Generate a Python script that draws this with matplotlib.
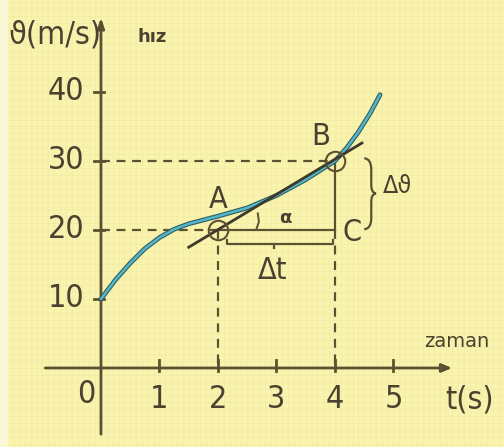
import matplotlib
matplotlib.use("Agg")
import matplotlib.pyplot as plt
import matplotlib.patheffects as pe
from matplotlib import font_manager
from matplotlib.path import Path
from matplotlib.patches import PathPatch
import numpy as np

# velocity curve
curve_t = [0, 0.25, 0.5, 0.75, 1.0, 1.25, 1.5, 2.0, 2.5, 3.0, 3.5, 4.0, 4.2, 4.4, 4.6, 4.77]
curve_v = [10, 12.8, 15.2, 17.3, 18.9, 20.1, 20.9, 22.0, 23.2, 25.0, 27.3, 30.0, 31.9, 34.2, 36.9, 39.6]

# chord through A and B
chord_t = [1.5, 4.46]
chord_v = [17.5, 32.6]

point_a = (2, 20)
point_b = (4, 30)
point_c = (4, 20)

x_ticks = [1, 2, 3, 4, 5]
y_ticks = [10, 20, 30, 40]

ink = "#4a4230"
axis_col = "#5b5131"
bg = "#f9f3ae"

# narrow font if there is one
names = {f.name for f in font_manager.fontManager.ttflist}
condensed = [f for f in font_manager.fontManager.ttflist
             if f.name == "DejaVu Sans" and "ondensed" in str(f.stretch) + f.fname]
if "Liberation Sans Narrow" in names:
    num = dict(family="Liberation Sans Narrow")
elif condensed:
    num = dict(family="DejaVu Sans", stretch="condensed")
else:
    num = dict(family="Liberation Sans")

fig = plt.figure(figsize=(5.04, 4.47), dpi=100)
fig.patch.set_facecolor(bg)
ax = fig.add_axes([0, 0, 1, 1])
ax.set_facecolor(bg)
ax.set_xlim(-1.726, 6.889)
ax.set_ylim(-11.45, 53.33)
ax.axis("off")

# faint graph paper
for gx in np.arange(-1.7, 6.9, 0.1):
    ax.axvline(gx, color="#ebe19a", lw=0.5, alpha=0.45, zorder=0)
for gy in np.arange(-11, 53.4, 1.0):
    ax.axhline(gy, color="#ebe19a", lw=0.5, alpha=0.45, zorder=0)
ax.axvspan(-1.726, -1.6, color="#fbf8d8", zorder=0.5)

# axes with arrows
ax.annotate("", xy=(6.05, 0), xytext=(-1.0, 0),
            arrowprops=dict(arrowstyle="-|>,head_length=0.6,head_width=0.25",
                            color=axis_col, lw=2))
ax.annotate("", xy=(0, 51.2), xytext=(0, -10),
            arrowprops=dict(arrowstyle="-|>,head_length=0.6,head_width=0.2",
                            color=axis_col, lw=2))

for t in x_ticks:
    ax.plot([t, t], [-0.4, 1.1], color=axis_col, lw=2)
    ax.text(t, -4.6, str(t), ha="center", va="center", fontsize=23, color=ink, **num)
for v in y_ticks:
    ax.plot([-0.12, 0.05], [v, v], color=axis_col, lw=2)
    ax.text(-0.6, v, str(v), ha="center", va="center", fontsize=23, color=ink, **num)
ax.text(-0.26, -3.9, "0", ha="center", va="center", fontsize=23, color=ink, **num)
ax.text(6.3, -4.7, "t(s)", ha="center", va="center", fontsize=23, color=ink, **num)
ax.text(6.08, 3.9, "zaman", ha="center", va="center", fontsize=14, color=ink)
ax.text(0.87, 47.9, "hız", ha="center", va="center", fontsize=13, weight="bold", color=ink)
ax.text(-0.78, 48.3, "ϑ(m/s)", ha="center", va="center", fontsize=23, color=ink, **num)

# dashed guide lines
dash = dict(color=axis_col, lw=1.6, ls=(0, (4, 3)))
ax.plot([0, point_b[0]], [point_b[1], point_b[1]], **dash)
ax.plot([0, point_a[0]], [point_a[1], point_a[1]], **dash)
ax.plot([point_a[0], point_a[0]], [point_a[1], 0], **dash)
ax.plot([point_c[0], point_c[0]], [point_c[1], 0], **dash)

# triangle A-C-B
ax.plot([point_a[0], point_c[0]], [point_a[1], point_c[1]], color=axis_col, lw=1.6)
ax.plot([point_c[0], point_b[0]], [point_c[1], point_b[1]], color=axis_col, lw=1.6)

# delta t bracket
ax.plot([2.15, 2.15, 3.97, 3.97], [18.6, 18.0, 18.0, 18.6], color=axis_col, lw=1.6)
ax.plot([2.95, 2.95], [18.0, 17.4], color=axis_col, lw=1.6)
ax.text(2.93, 14.2, "Δt", ha="center", va="center", fontsize=22, color=ink, **num)

# delta v brace
brace = Path(
    [(4.50, 30.4), (4.62, 30.3), (4.62, 28.8), (4.62, 26.5),
     (4.62, 25.4), (4.70, 25.3), (4.62, 25.2), (4.62, 24.1),
     (4.62, 21.7), (4.62, 20.2), (4.50, 20.1)],
    [Path.MOVETO, Path.CURVE3, Path.CURVE3, Path.LINETO,
     Path.CURVE3, Path.CURVE3, Path.CURVE3, Path.CURVE3,
     Path.LINETO, Path.CURVE3, Path.CURVE3])
ax.add_patch(PathPatch(brace, fc="none", ec=axis_col, lw=1.6))
ax.text(5.06, 26.4, "Δϑ", ha="center", va="center", fontsize=18, color=ink, **num)

# alpha arc
ax.plot([2.66, 2.7, 2.68], [20.2, 21.2, 22.4], color=axis_col, lw=1.4)
ax.text(3.15, 21.7, "α", ha="center", va="center", fontsize=13, weight="bold", color=ink)

# curve and chord
ax.plot(curve_t, curve_v, color="#55b6c8", lw=1.8, solid_capstyle="round",
        solid_joinstyle="round",
        path_effects=[pe.Stroke(linewidth=3.4, foreground="#2f5f62"), pe.Normal()], zorder=4)
ax.plot(chord_t, chord_v, color="#3d392b", lw=2, zorder=5)

# points
ax.plot(*point_a, "o", ms=14, mfc="none", mec=axis_col, mew=1.5, zorder=6)
ax.plot(*point_b, "o", ms=14, mfc="none", mec=axis_col, mew=1.5, zorder=6)
ax.text(2.0, 24.4, "A", ha="center", va="center", fontsize=22, color=ink, **num)
ax.text(3.75, 33.6, "B", ha="center", va="center", fontsize=22, color=ink, **num)
ax.text(4.3, 19.6, "C", ha="center", va="center", fontsize=22, color=ink, **num)

fig.savefig("out.png", dpi=100, facecolor=bg)
